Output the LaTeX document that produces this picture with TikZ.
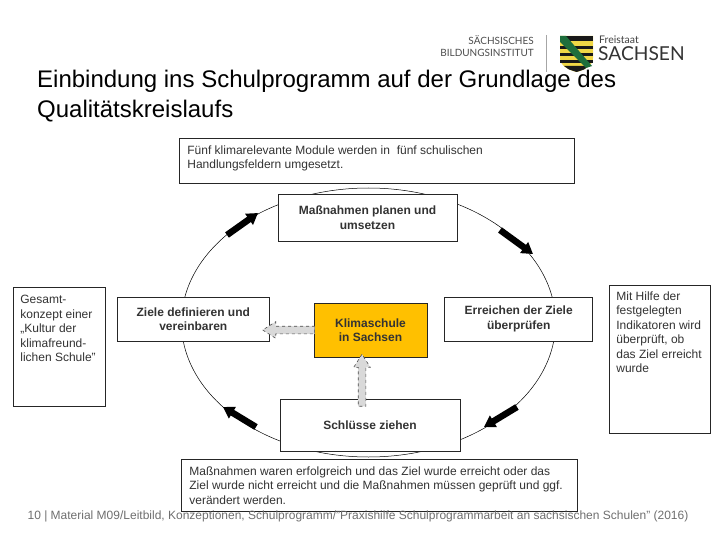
\documentclass[tikz,border=0pt]{standalone}
\usepackage{fontspec}
\setmainfont{Liberation Sans}
\newfontfamily\logofont{Lato}
\usetikzlibrary{positioning,arrows.meta,shapes.geometric,shapes.arrows}
\definecolor{klimaorange}{RGB}{255,192,0}
\definecolor{fussgrau}{RGB}{110,110,110}
\definecolor{logogelb}{RGB}{240,215,70}
\definecolor{logogruen}{RGB}{30,110,60}
\newcommand{\NB}[3]{\parbox[c][#2][t]{#1}{\raggedright #3}}
\tikzset{
  kbox/.style={draw=black!85,fill=white,line width=0.7pt,inner sep=0pt,align=center,
               font=\fontsize{12}{14.5}\selectfont\bfseries,text=black!80},
  nbox/.style={draw=black!85,fill=white,line width=0.7pt,inner sep=0pt,
               font=\fontsize{12}{14.5}\selectfont,text=black!80},
  arr/.style={-{Triangle[length=11pt,width=13pt]},line width=6.5pt,black},
  garr/.style={draw=black!70,dashed,line width=0.6pt,fill=black!15,single arrow,
               inner sep=3.5pt,minimum height=52pt,minimum width=16pt,
               single arrow head extend=4.5pt,single arrow tip angle=65},
  kreis/.style={draw=black,line width=0.5pt,ellipse,inner sep=0pt,
                minimum width=374pt,minimum height=269pt},
}
\begin{document}
\begin{tikzpicture}[x=1pt,y=-1pt]
    \useasboundingbox (0,0) rectangle (720,540);
    % logo
    \node[anchor=east,font=\logofont\fontsize{10}{11}\selectfont,text=black!70,inner sep=0pt] (lg1) at (534,40) {SÄCHSISCHES};
    \node[anchor=east,font=\logofont\fontsize{10}{11}\selectfont,text=black!70,inner sep=0pt] (lg2) at (534,53) {BILDUNGSINSTITUT};
    \draw[black!35,line width=0.6pt] (546,35) -- (546,72);
    \fill[logogelb] (560,36) -- (593,36) -- (593,58) .. controls (593,66) and (584,70) .. (576.5,72) .. controls (569,70) and (560,66) .. (560,58) -- cycle;
    \fill[black!90] (560,36) rectangle (593,41);
    \foreach \y in {46,53,60}
      \fill[black!90] (560,\y) rectangle (593,\y+3.5);
    \fill[black!90] (564,66) -- (589,66) -- (584,69.5) -- (576.5,72) -- (569,69.5) -- cycle;
    \fill[logogruen] (560,36) -- (566,36) -- (592,66) -- (586,68) -- (560,42) -- cycle;
    \node[anchor=west,font=\logofont\fontsize{10.5}{11}\selectfont,text=black!75,inner sep=0pt] (lg3) at (599,40) {Freistaat};
    \node[anchor=west,font=\logofont\fontsize{19.2}{21}\selectfont,text=black!80,inner sep=0pt] (lg4) at (598,54) {SACHSEN};
    % title
    \node[anchor=north west,align=left,inner sep=0pt,font=\fontsize{24}{30}\selectfont] (titel) at (37,70) {Einbindung ins Schulprogramm auf der Grundlage des\\Qualitätskreislaufs};
    % circle and boxes
    \node[kreis] (ring) at (368.5,322.5) {};
    \node[kbox,fill=klimaorange,minimum width=113pt,minimum height=54pt] (klima) at (370.5,330) {Klimaschule\\in Sachsen};
    \node[kbox,minimum width=152pt,minimum height=44pt,left=44pt of klima,yshift=11pt] (ziele) {Ziele definieren und\\vereinbaren};
    \node[kbox,minimum width=148pt,minimum height=44pt,right=17pt of klima,yshift=11pt] (erreichen) {Erreichen der Ziele\\überprüfen};
    \node[kbox,minimum width=179pt,minimum height=47pt] (planen) at (367.5,217.5) {Maßnahmen planen und\\umsetzen};
    \node[kbox,minimum width=180pt,minimum height=52pt] (schluesse) at (370,425.5) {Schlüsse ziehen};
    % notes
    \node[nbox,anchor=north west] (modul) at (179,138) {\hspace{8pt}\NB{387pt}{45pt}{\vspace{7pt}Fünf klimarelevante Module werden in\ \ fünf schulischen\\Handlungsfeldern umgesetzt.}};
    \node[nbox,anchor=north west] (konzept) at (13,287) {\hspace{7pt}\NB{85pt}{119pt}{\vspace{8pt}Gesamt-\\konzept einer\\„Kultur der\\klimafreund-\\lichen Schule"}};
    \node[nbox,anchor=north west] (indikator) at (609,285) {\hspace{7pt}\NB{94pt}{148pt}{\vspace{6pt}Mit Hilfe der\\festgelegten\\Indikatoren wird\\überprüft, ob\\das Ziel erreicht\\wurde}};
    \node[nbox,anchor=north west] (erfolg) at (181,459) {\hspace{8pt}\NB{388pt}{52pt}{\vspace{7pt}Maßnahmen waren erfolgreich und das Ziel wurde erreicht oder das\\Ziel wurde nicht erreicht und die Maßnahmen müssen geprüft und ggf.\\verändert werden.}};
    % footer
    \node[inner sep=0pt,text=fussgrau,font=\fontsize{12}{14}\selectfont] (fuss) at (358,516) {10 | Material M09/Leitbild, Konzeptionen, Schulprogramm/"Praxishilfe Schulprogrammarbeit an sächsischen Schulen" (2016)};
    % black arrows on the circle
    \coordinate (a1) at (227,235);
    \coordinate (a2) at (258,213);
    \coordinate (b1) at (500,230);
    \coordinate (b2) at (533,254);
    \coordinate (c1) at (517,407);
    \coordinate (c2) at (484,427);
    \coordinate (d1) at (256,427);
    \coordinate (d2) at (223,407);
    \draw[arr] (a1) -- (a2);
    \draw[arr] (b1) -- (b2);
    \draw[arr] (c1) -- (c2);
    \draw[arr] (d1) -- (d2);
    % grey arrows
    \path (klima.west) -- node[garr,shape border rotate=180] (g1) {} (klima.west -| ziele.east);
    \path ([xshift=-8.5pt]klima.south) -- node[garr,shape border rotate=90,pos=0.62] (g2) {} ([xshift=-8.5pt]klima.south |- schluesse.north);
\end{tikzpicture}
\end{document}
